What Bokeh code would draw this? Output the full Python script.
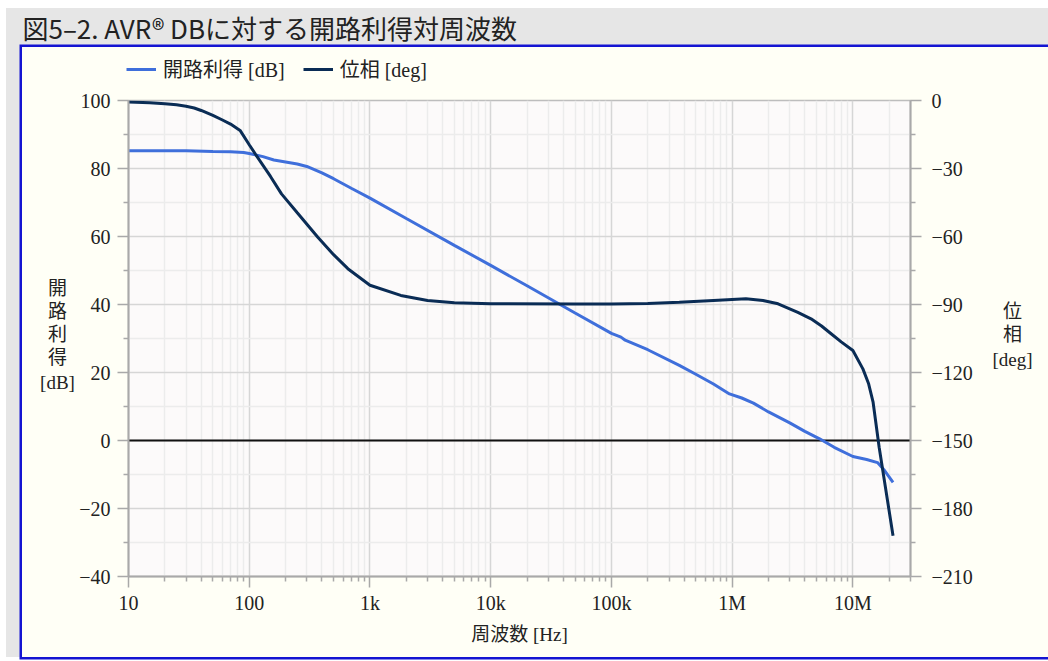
from bokeh.plotting import figure
from bokeh.layouts import column, row
from bokeh.models import (Range1d, LinearAxis, FixedTicker, Legend, LegendItem,
                          Span, Label)
from bokeh.embed import file_html
from bokeh.resources import INLINE

# Open-loop gain [dB] versus frequency [Hz]
gain_freq = [10, 20, 30, 50, 70, 90, 100, 130, 160, 200, 250, 300, 400, 500, 700,
             1e3, 2e3, 5e3, 1e4, 2e4, 5e4, 1e5, 1.2e5, 1.3e5, 2e5, 3.65e5, 5e5, 7e5,
             9.5e5, 1.2e6, 1.5e6, 2e6, 3e6, 4e6, 5.3e6, 7e6, 1e7, 1.3e7, 1.6e7,
             1.8e7, 2.15e7]
gain_db = [85.2, 85.2, 85.2, 85.0, 84.9, 84.7, 84.4, 83.5, 82.5, 81.9, 81.3, 80.6,
           78.7, 77.0, 74.2, 71.3, 65.3, 57.4, 51.5, 45.5, 37.5, 31.5, 30.4, 29.5,
           26.7, 22.1, 19.5, 16.6, 13.7, 12.5, 11.0, 8.4, 5.2, 2.7, 0.5, -2.0, -4.7,
           -5.6, -6.5, -8.5, -12.3]

# Phase [deg] versus frequency [Hz]
phase_freq = [10, 15, 20, 25, 30, 35, 40, 50, 60, 70, 84, 100, 112, 150, 185, 250,
              370, 500, 656, 1e3, 1.8e3, 3e3, 5e3, 1e4, 5e4, 1e5, 2e5, 3.65e5, 7e5,
              1.3e6, 1.8e6, 2.4e6, 3.5e6, 4.5e6, 5.5e6, 6.6e6, 8e6, 1e7, 1.21e7,
              1.35e7, 1.47e7, 1.65e7, 2.15e7]
phase_deg = [-0.7, -1.0, -1.4, -1.9, -2.5, -3.3, -4.4, -6.6, -8.6, -10.4, -13.2,
             -19.5, -23.5, -33.5, -41.2, -49.5, -60.3, -68.0, -74.2, -81.5, -86.0,
             -88.2, -89.2, -89.7, -89.8, -89.8, -89.6, -89.0, -88.2, -87.5, -88.2,
             -89.7, -93.5, -96.3, -99.5, -102.9, -106.5, -110.3, -118.4, -125.0,
             -133.1, -153.0, -192.0]

x_tick_values = [10, 100, 1000, 10000, 100000, 1000000, 10000000]
x_tick_labels = ["10", "100", "1k", "10k", "100k", "1M", "10M"]
gain_ticks = [-40, -20, 0, 20, 40, 60, 80, 100]
phase_ticks = [-210, -180, -150, -120, -90, -60, -30, 0]

title_text = "図5–2. AVR® DBに対する開路利得対周波数"
gain_label = "開路利得 [dB]"
phase_label = "位相 [deg]"
gain_axis_lines = ["開", "路", "利", "得", "[dB]"]
phase_axis_lines = ["位", "相", "[deg]"]
x_axis_title = "周波数 [Hz]"

SERIF = "'Liberation Serif', 'Noto Sans CJK JP'"
SANS = "'Noto Sans CJK JP', 'Noto Sans'"
TEXT = "#222222"
AXIS = "#a9a9a9"
PANEL = "#fffff6"
GREY = "#e6e6e6"
GAIN_COLOR = "#3f6fdb"
PHASE_COLOR = "#0a2c55"

BODY_Y = 47            # page y of the boxed chart area
BODY_H = 610           # height of the boxed chart area
LEGEND_H = 41          # legend strip above the chart
CHART_W = 899
BORDER_L, BORDER_R, BORDER_T, BORDER_B = 50, 65, 12, 81


def unaligned(f):
    try:
        f.frame_align = False
    except AttributeError:
        pass
    return f


def text_panel(width, height, fill):
    """A bare figure used to hold free text inside its frame."""
    f = figure(width=width, height=height, x_range=Range1d(0, 1), y_range=Range1d(0, 1),
               output_backend="svg", toolbar_location=None, title=None,
               x_axis_location=None, y_axis_location=None, min_border=0,
               border_fill_color=fill, background_fill_color=fill,
               outline_line_color=None)
    f.grid.visible = False
    return unaligned(f)


def put(f, text, x, y_from_top, size, font=SERIF, align="center"):
    # pixel position inside the panel, y counted from its top edge
    f.add_layout(Label(x=x, y=f.height - y_from_top, x_units="screen", y_units="screen",
                       text=text, text_font=font, text_font_size=size, text_color=TEXT,
                       text_align=align, text_baseline="middle"))


# heading band
header = text_panel(1042, 37, GREY)
put(header, title_text, 16, 19, "26px", font=SANS, align="left")

# chart
p = figure(width=CHART_W, height=BODY_H - LEGEND_H, x_axis_type="log", title=None,
           x_range=Range1d(10, 3e7), y_range=Range1d(-40, 100),
           output_backend="svg", toolbar_location=None,
           min_border_left=BORDER_L, min_border_right=BORDER_R,
           min_border_top=BORDER_T, min_border_bottom=BORDER_B,
           border_fill_color=PANEL, background_fill_color="#fcfafa",
           outline_line_color="#bdbdbd", outline_line_width=1.5)
unaligned(p)

minor_x = [m * 10 ** e for e in range(1, 8) for m in range(2, 10) if m * 10 ** e <= 3e7]
p.xaxis.ticker = FixedTicker(ticks=x_tick_values, minor_ticks=minor_x)
p.xaxis.major_label_overrides = dict(zip(x_tick_values, x_tick_labels))
p.xaxis.axis_label = x_axis_title
p.xaxis.axis_label_text_font = SERIF
p.xaxis.axis_label_text_font_size = "19px"
p.xaxis.axis_label_text_font_style = "normal"
p.xaxis.axis_label_text_color = TEXT
p.xaxis.axis_label_standoff = 7

p.yaxis.ticker = FixedTicker(ticks=gain_ticks,
                             minor_ticks=[t + 10 for t in gain_ticks[:-1]])
p.yaxis.major_label_overrides = {t: str(t).replace("-", "−") for t in gain_ticks}

p.extra_y_ranges = {"phase": Range1d(-210, 0)}
phase_axis = LinearAxis(y_range_name="phase",
                        ticker=FixedTicker(ticks=phase_ticks,
                                           minor_ticks=[t + 15 for t in phase_ticks[:-1]]))
phase_axis.major_label_overrides = {t: str(t).replace("-", "−") for t in phase_ticks}
p.add_layout(phase_axis, "right")

for ax in [p.xaxis[0], p.yaxis[0], phase_axis]:
    ax.axis_line_color = AXIS
    ax.axis_line_width = 2
    ax.major_tick_line_color = AXIS
    ax.major_tick_line_width = 1.5
    ax.minor_tick_line_color = AXIS
    ax.minor_tick_line_width = 1.5
    ax.major_tick_in = 0
    ax.major_tick_out = 11
    ax.minor_tick_in = 0
    ax.minor_tick_out = 5
    ax.major_label_text_font = SERIF
    ax.major_label_text_font_size = "20px"
    ax.major_label_text_color = TEXT
p.xaxis.major_label_standoff = 4
p.yaxis.major_label_standoff = 7
phase_axis.major_label_standoff = 10

p.xgrid.grid_line_color = "#d6d6d6"
p.xgrid.grid_line_width = 1.5
p.xgrid.minor_grid_line_color = "#ececec"
p.xgrid.minor_grid_line_width = 1.5
p.ygrid.grid_line_color = "#d6d6d6"
p.ygrid.grid_line_width = 1.5
p.ygrid.minor_grid_line_color = "#ececec"
p.ygrid.minor_grid_line_width = 1.5

# 0 dB reference
p.add_layout(Span(location=0, dimension="width", line_color="#111111",
                  line_width=2, level="underlay"))

p.line(gain_freq, gain_db, line_color=GAIN_COLOR, line_width=3)
p.line(phase_freq, phase_deg, y_range_name="phase", line_color=PHASE_COLOR, line_width=3)

# legend strip above the chart; its key lines carry the same series but lie
# outside this strip's 0..1 view, so only the legend samples show
key = text_panel(CHART_W, LEGEND_H, PANEL)
gain_key = key.line(gain_freq, gain_db, line_color=GAIN_COLOR, line_width=3)
phase_key = key.line(phase_freq, phase_deg, line_color=PHASE_COLOR, line_width=3)
key.add_layout(Legend(items=[LegendItem(label=gain_label, renderers=[gain_key]),
                             LegendItem(label=phase_label, renderers=[phase_key])],
                      orientation="horizontal", location=(BORDER_L, LEGEND_H - 24 - 12),
                      glyph_width=30, glyph_height=24, label_height=24,
                      label_standoff=7, spacing=18, padding=0, margin=0,
                      border_line_alpha=0, background_fill_alpha=0,
                      label_text_font=SERIF, label_text_font_size="20px",
                      label_text_color=TEXT))

# vertical axis titles, beside the frame
left_txt = text_panel(54, BODY_H, PANEL)
for t, yc in zip(gain_axis_lines, [288, 311, 334, 357, 382]):
    put(left_txt, t, 35, yc - BODY_Y, "19px")

right_txt = text_panel(73, BODY_H, PANEL)
for t, yc in zip(phase_axis_lines, [311, 334, 359]):
    put(right_txt, t, 37, yc - BODY_Y, "19px")

chart = column(key, p, spacing=0)
body = row(left_txt, chart, right_txt, spacing=0, margin=(2, 0, 0, 16),
           styles={"box-shadow": "0 0 0 2.5px #1414d2", "background-color": PANEL})
page = column(header, body, spacing=0, margin=(8, 0, 0, 6),
              styles={"background-color": GREY})

open("out.html", "w").write(file_html(page, INLINE))
